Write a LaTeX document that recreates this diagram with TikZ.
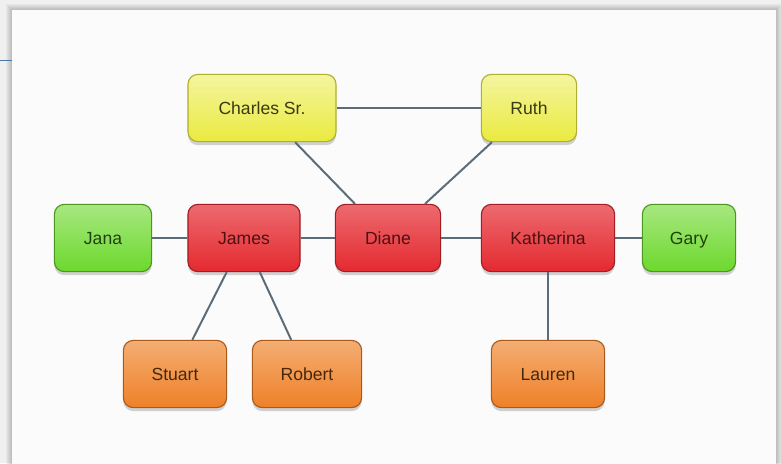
\documentclass[tikz,border=0pt]{standalone}
\usepackage{fontspec}
\setmainfont{Liberation Sans}
\usetikzlibrary{shadows}
\definecolor{cardbg}{HTML}{FBFBFB}
\definecolor{linkgray}{HTML}{5B6B78}
\definecolor{tabblue}{HTML}{4A78A8}
\definecolor{yelbase}{HTML}{EAEA40}
\definecolor{redbase}{HTML}{E42A30}
\definecolor{grnbase}{HTML}{6CD82C}
\definecolor{orgbase}{HTML}{EE8128}

\begin{document}
\begin{tikzpicture}[
  x=0.025cm, y=-0.025cm,
  person/.style={draw, rounded corners=7pt, line width=0.8pt, minimum height=1.68cm,
    inner sep=0pt, text height=9pt, text depth=0pt, font=\fontsize{12.5}{15}\selectfont,
    drop shadow={shadow xshift=0pt, shadow yshift=-2.5pt, opacity=0.35}},
  parent/.style={person, draw=yelbase!75!black, top color=yelbase!50!white, bottom color=yelbase, text=yelbase!25!black},
  kid/.style={person, draw=redbase!70!black, top color=redbase!70!white, bottom color=redbase, text=redbase!35!black},
  spouse/.style={person, draw=grnbase!70!black, top color=grnbase!60!white, bottom color=grnbase, text=grnbase!30!black},
  grandkid/.style={person, draw=orgbase!70!black, top color=orgbase!65!white, bottom color=orgbase, text=orgbase!30!black},
  link/.style={draw=linkgray, line width=1.4pt},
]
  \useasboundingbox (0,0) rectangle (781,463);
  % card with its shadow
  \fill[gray!12] (0,0) rectangle (781,463);
  \foreach \i in {1,...,6}
    \fill[black, opacity=0.035] (12-\i,10-\i) rectangle (776+\i,470);
  \fill[cardbg] (12,10) rectangle (776,470);
  \draw[tabblue, line width=0.6pt] (0,60) -- (12,60);

  \node[parent, minimum width=3.7cm] (charles) at (262,108) {Charles Sr.};
  \node[parent, minimum width=2.38cm] (ruth) at (529,108) {Ruth};
  \node[spouse, minimum width=2.43cm] (jana) at (103,238) {Jana};
  \node[kid, minimum width=2.8cm] (james) at (244,238) {James};
  \node[kid, minimum width=2.63cm] (diane) at (388,238) {Diane};
  \node[kid, minimum width=3.33cm] (katherina) at (548,238) {Katherina};
  \node[spouse, minimum width=2.33cm] (gary) at (689,238) {Gary};
  \node[grandkid, minimum width=2.58cm] (stuart) at (175,374) {Stuart};
  \node[grandkid, minimum width=2.73cm] (robert) at (307,374) {Robert};
  \node[grandkid, minimum width=2.83cm] (lauren) at (548,374) {Lauren};

  \draw[link] (charles) -- (ruth);
  \draw[link] (charles) -- (diane);
  \draw[link] (ruth) -- (diane);
  \draw[link] (jana) -- (james);
  \draw[link] (james) -- (diane);
  \draw[link] (diane) -- (katherina);
  \draw[link] (katherina) -- (gary);
  \draw[link] (james) -- (stuart);
  \draw[link] (james) -- (robert);
  \draw[link] (katherina) -- (lauren);
\end{tikzpicture}
\end{document}
